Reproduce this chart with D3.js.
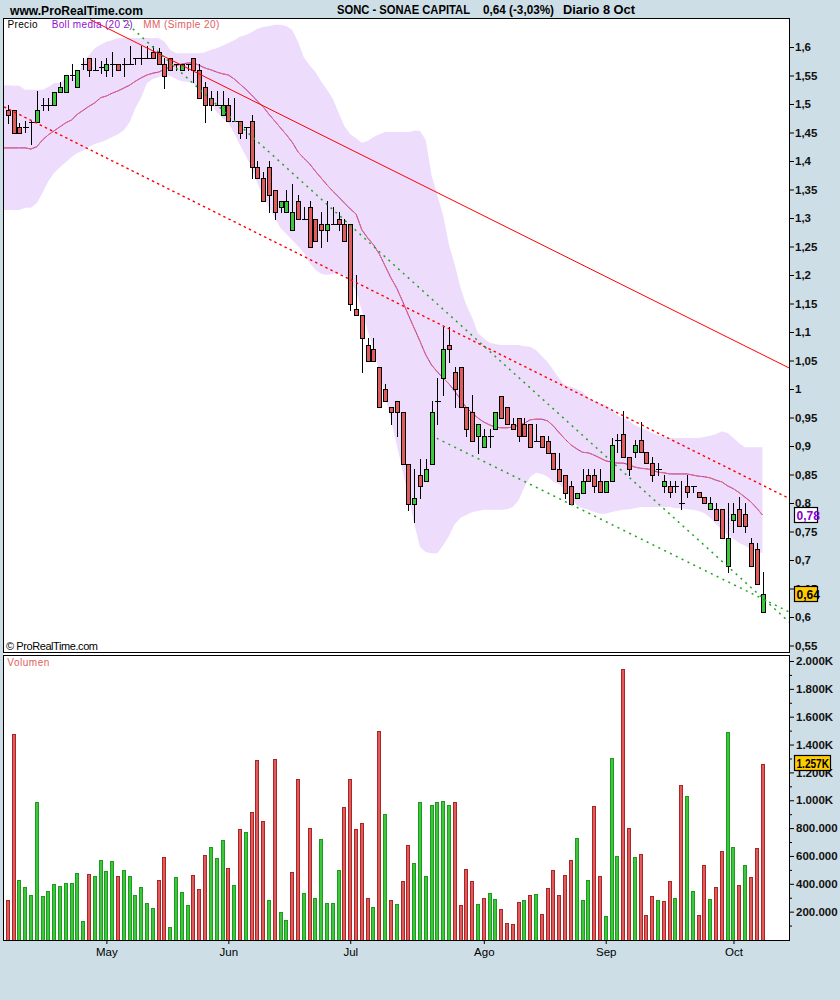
<!DOCTYPE html>
<html><head><meta charset="utf-8">
<script src="https://cdn.jsdelivr.net/npm/d3@7"></script>
<style>
html,body{margin:0;padding:0;background:#cedee6;}
svg{display:block;font-family:"Liberation Sans",Arial,sans-serif;}
</style></head><body>
<svg id="c" width="840" height="1000"></svg>
<script>
// ---------- DATA ----------
const candleOpen = [1.490,1.490,1.459,1.459,1.469,1.469,1.499,1.499,1.499,1.521,
1.521,1.551,1.529,1.571,1.580,1.560,1.565,1.560,1.570,1.570,
1.571,1.571,1.580,1.580,1.580,1.591,1.591,1.570,1.580,1.570,
1.560,1.570,1.580,1.560,1.529,1.510,1.499,1.481,1.499,1.470,
1.470,1.460,1.470,1.389,1.370,1.389,1.349,1.320,1.310,1.279,
1.330,1.299,1.320,1.299,1.289,1.279,1.289,1.299,1.289,1.289,
1.140,1.130,1.078,1.070,1.038,1.000,0.968,0.979,0.959,0.868,
0.798,0.849,0.839,0.868,0.979,1.019,1.078,1.029,1.039,0.968,
0.959,0.918,0.899,0.918,0.929,0.988,0.968,0.938,0.949,0.938,
0.938,0.908,0.918,0.908,0.888,0.859,0.849,0.829,0.808,0.818,
0.850,0.850,0.839,0.820,0.839,0.911,0.921,0.880,0.890,0.911,
0.890,0.870,0.860,0.829,0.829,0.829,0.800,0.830,0.830,0.820,
0.810,0.790,0.790,0.790,0.690,0.770,0.790,0.780,0.729,0.720,
0.609];
const candleHigh = [1.498,1.490,1.467,1.470,1.470,1.522,1.510,1.510,1.521,1.539,
1.551,1.571,1.560,1.580,1.580,1.580,1.575,1.580,1.591,1.570,
1.580,1.601,1.580,1.601,1.601,1.601,1.598,1.580,1.580,1.570,
1.570,1.570,1.580,1.570,1.539,1.522,1.522,1.522,1.510,1.510,
1.470,1.460,1.481,1.400,1.380,1.400,1.349,1.330,1.349,1.359,
1.340,1.320,1.330,1.299,1.310,1.330,1.320,1.310,1.299,1.289,
1.200,1.130,1.089,1.089,1.038,1.008,0.968,0.979,0.959,0.868,
0.860,0.878,0.878,0.979,1.020,1.109,1.109,1.039,1.039,0.968,
0.990,0.938,0.929,0.929,0.959,0.988,0.968,0.949,0.949,0.949,
0.938,0.938,0.918,0.918,0.888,0.888,0.849,0.839,0.818,0.860,
0.860,0.860,0.860,0.839,0.914,0.921,0.962,0.880,0.911,0.942,
0.890,0.880,0.870,0.850,0.839,0.839,0.839,0.850,0.830,0.820,
0.810,0.810,0.800,0.790,0.800,0.800,0.810,0.800,0.739,0.729,
0.679];
const candleLow = [1.466,1.450,1.450,1.451,1.429,1.469,1.490,1.490,1.499,1.521,
1.521,1.542,1.529,1.561,1.550,1.560,1.555,1.550,1.550,1.560,
1.550,1.571,1.570,1.570,1.580,1.580,1.570,1.528,1.560,1.560,
1.560,1.560,1.539,1.510,1.469,1.490,1.499,1.481,1.470,1.470,
1.440,1.440,1.370,1.370,1.330,1.310,1.299,1.310,1.310,1.279,
1.299,1.299,1.249,1.260,1.249,1.260,1.289,1.279,1.260,1.139,
1.130,1.029,1.049,1.049,0.969,0.979,0.938,0.918,0.868,0.788,
0.767,0.808,0.839,0.868,0.938,0.990,1.048,0.968,0.968,0.918,
0.908,0.888,0.899,0.899,0.929,0.949,0.938,0.929,0.908,0.918,
0.899,0.908,0.899,0.888,0.859,0.839,0.808,0.798,0.808,0.818,
0.839,0.820,0.820,0.820,0.839,0.890,0.880,0.850,0.880,0.890,
0.870,0.839,0.850,0.820,0.810,0.820,0.789,0.810,0.820,0.810,
0.800,0.790,0.770,0.739,0.679,0.750,0.760,0.750,0.690,0.658,
0.609];
const candleClose = [1.481,1.450,1.450,1.459,1.469,1.490,1.499,1.499,1.521,1.530,
1.551,1.551,1.560,1.571,1.560,1.560,1.565,1.570,1.570,1.560,
1.571,1.571,1.580,1.580,1.580,1.580,1.570,1.550,1.560,1.570,
1.570,1.570,1.560,1.510,1.499,1.499,1.499,1.499,1.470,1.470,
1.450,1.460,1.389,1.370,1.330,1.340,1.310,1.330,1.330,1.310,
1.299,1.299,1.249,1.260,1.279,1.289,1.289,1.289,1.260,1.149,
1.130,1.089,1.049,1.049,0.969,0.979,0.959,0.959,0.868,0.798,
0.808,0.829,0.860,0.959,0.979,1.070,1.070,1.000,0.968,0.929,
0.908,0.938,0.918,0.918,0.959,0.949,0.938,0.929,0.918,0.918,
0.899,0.908,0.899,0.888,0.859,0.839,0.818,0.798,0.818,0.839,
0.839,0.829,0.820,0.839,0.901,0.911,0.880,0.860,0.901,0.890,
0.870,0.850,0.860,0.839,0.820,0.829,0.800,0.820,0.830,0.810,
0.800,0.800,0.770,0.739,0.739,0.780,0.760,0.760,0.690,0.658,
0.640];
// volume in thousands
const volume = [284,1473,427,375,320,985,312,348,396,384,
403,403,475,133,468,456,571,492,564,456,
499,456,320,375,260,226,427,592,90,449,
341,248,463,362,607,664,585,714,511,391,
794,772,915,1289,851,284,1296,197,140,485,
1153,334,801,298,722,262,262,499,951,1153,
794,837,298,233,1497,901,284,255,420,679,
549,987,456,966,985,992,966,985,248,504,
420,252,296,331,288,217,116,109,267,281,
317,324,181,367,499,317,461,568,726,281,
427,959,454,166,1301,597,1940,798,590,612,
173,310,281,274,418,296,1107,1028,346,173,
533,288,375,633,1488,662,389,533,446,655,
1257];
const bollUpper = [1.533,1.532,1.532,1.525,1.525,1.525,1.525,1.530,1.537,1.537,
1.546,1.547,1.547,1.574,1.586,1.598,1.604,1.609,1.612,1.616,
1.616,1.616,1.616,1.616,1.616,1.616,1.616,1.609,1.595,1.589,
1.589,1.589,1.589,1.589,1.591,1.595,1.598,1.602,1.607,1.612,
1.618,1.621,1.626,1.632,1.635,1.637,1.639,1.639,1.637,1.630,
1.609,1.582,1.568,1.556,1.539,1.525,1.509,1.484,1.461,1.447,
1.440,1.432,1.435,1.442,1.447,1.451,1.451,1.451,1.451,1.451,
1.453,1.453,1.437,1.375,1.340,1.305,1.253,1.218,1.177,1.147,
1.125,1.098,1.089,1.081,1.079,1.077,1.077,1.077,1.077,1.075,
1.074,1.068,1.058,1.047,1.033,1.018,1.007,1.004,1.000,0.995,
0.984,0.979,0.975,0.972,0.963,0.954,0.949,0.944,0.937,0.932,
0.928,0.923,0.919,0.916,0.914,0.914,0.914,0.914,0.914,0.914,
0.916,0.918,0.921,0.926,0.923,0.914,0.905,0.898,0.898,0.898,
0.898];
const bollLower = [1.314,1.314,1.314,1.318,1.318,1.326,1.344,1.365,1.379,1.389,
1.398,1.407,1.414,1.419,1.425,1.430,1.433,1.437,1.442,1.447,
1.454,1.468,1.493,1.512,1.537,1.544,1.547,1.551,1.549,1.544,
1.540,1.539,1.535,1.530,1.516,1.500,1.486,1.475,1.467,1.449,
1.428,1.409,1.388,1.361,1.339,1.319,1.300,1.282,1.272,1.261,
1.251,1.239,1.221,1.209,1.202,1.200,1.202,1.202,1.200,1.189,
1.172,1.137,1.102,1.068,1.032,0.988,0.946,0.902,0.858,0.811,
0.765,0.723,0.714,0.712,0.712,0.726,0.742,0.763,0.774,0.779,
0.784,0.786,0.788,0.788,0.788,0.788,0.789,0.793,0.805,0.828,
0.846,0.853,0.851,0.846,0.837,0.833,0.823,0.809,0.796,0.791,
0.788,0.784,0.781,0.781,0.784,0.786,0.788,0.789,0.791,0.793,
0.793,0.793,0.793,0.793,0.793,0.791,0.791,0.789,0.788,0.786,
0.782,0.774,0.763,0.753,0.744,0.737,0.730,0.725,0.719,0.716,
0.712];
const ma20 = [1.423,1.423,1.423,1.423,1.421,1.425,1.437,1.446,1.453,1.460,
1.467,1.472,1.482,1.489,1.496,1.502,1.511,1.514,1.519,1.523,
1.528,1.533,1.540,1.546,1.551,1.554,1.556,1.561,1.565,1.568,
1.570,1.572,1.572,1.568,1.563,1.560,1.556,1.553,1.551,1.544,
1.535,1.526,1.516,1.505,1.495,1.482,1.470,1.458,1.446,1.433,
1.416,1.405,1.395,1.382,1.370,1.358,1.347,1.337,1.326,1.316,
1.307,1.279,1.265,1.253,1.237,1.216,1.195,1.177,1.154,1.130,
1.107,1.084,1.060,1.042,1.030,1.019,1.009,0.996,0.982,0.967,
0.958,0.949,0.942,0.937,0.933,0.932,0.932,0.933,0.937,0.940,
0.946,0.947,0.947,0.944,0.935,0.923,0.912,0.902,0.895,0.889,
0.888,0.884,0.879,0.874,0.872,0.870,0.870,0.867,0.863,0.861,
0.860,0.858,0.854,0.853,0.851,0.851,0.851,0.851,0.849,0.847,
0.846,0.844,0.840,0.837,0.830,0.825,0.818,0.810,0.802,0.791,
0.779];
// trend lines drawn on the chart: [bar index, price] end points
const trendSolidRed = [[14.2,1.648],[134.57,1.037]];
const trendDottedRed = [[-0.64,1.495],[134.57,0.808]];
const trendGreenSteep = [[19.9,1.647],[134.57,0.5915]];
const trendGreenLow = [[73.9,0.9135],[134.57,0.609]];

const priceTicks = [1.6,1.55,1.5,1.45,1.4,1.35,1.3,1.25,1.2,1.15,1.1,1.05,1.0,0.95,0.9,0.85,0.8,0.75,0.7,0.65,0.6,0.55];
const priceTickLabels = ["1,6","1,55","1,5","1,45","1,4","1,35","1,3","1,25","1,2","1,15","1,1","1,05","1","0,95","0,9","0,85","0,8","0,75","0,7","0,65","0,6","0,55"];
const volTicks = [2000,1800,1600,1400,1200,1000,800,600,400,200];
const volTickLabels = ["2.000K","1.800K","1.600K","1.400K","1.200K","1.000K","800.000","600.000","400.000","200.000"];
const volMinorTicks = [1900,1700,1500,1300,1100,900,700,500,300,100];
const monthIndex = [17,38,59,82,103,125];
const monthLabels = ["May","Jun","Jul","Ago","Sep","Oct"];
const lastVolumeLabel = "1.257K";

// ---------- LAYOUT ----------
const svg = d3.select('#c');
const BG = '#cedee6';
const L = 3.5, R = 789.5, PT = 18.5, PB = 652.5, VT = 655.5, VB = 940.5;
const RED = '#e05c5c', GREEN = '#3cc83c';

svg.append('rect').attr('width',840).attr('height',1000).attr('fill',BG);
svg.append('rect').attr('x',L).attr('y',PT).attr('width',R-L).attr('height',VB-PT).attr('fill','#fff');

const x = d3.scaleLinear().domain([0,130]).range([7.7,762.5]);
const y = d3.scaleLinear().domain([0.55,1.6]).range([645.5,47]);
const yv = d3.scaleLinear().domain([0,2000]).range([939.5,661]);

const defs = svg.append('defs');
defs.append('clipPath').attr('id','pclip').append('rect')
  .attr('x',L).attr('y',PT).attr('width',R-L).attr('height',PB-PT);

const idx = d3.range(candleClose.length);
const pg = svg.append('g').attr('clip-path','url(#pclip)');

// Bollinger band
const bandIdx = [-0.64].concat(idx);
const bi = i => i < 0 ? 0 : i;
pg.append('path')
  .attr('d', d3.area().x(i=>x(i)).y0(i=>y(bollLower[bi(i)])).y1(i=>y(bollUpper[bi(i)]))(bandIdx))
  .attr('fill','#eddcfc');

// MA line (Boll media purple under MM salmon)
const maLine = d3.line().x(i=>x(i)).y(i=>y(ma20[bi(i)]));
pg.append('path').attr('d',maLine(bandIdx)).attr('fill','none').attr('stroke','#9a2fd0').attr('stroke-width',1);
pg.append('path').attr('d',maLine(bandIdx)).attr('fill','none').attr('stroke','#e87070').attr('stroke-width',1).attr('stroke-dasharray','14,2');

// candles
const cg = pg.append('g').attr('shape-rendering','crispEdges');
idx.forEach(i=>{
  const cx = Math.round(x(i)) + 0.5;
  const o = candleOpen[i], c = candleClose[i];
  cg.append('line').attr('x1',cx).attr('x2',cx)
    .attr('y1',Math.round(y(candleHigh[i]))).attr('y2',Math.round(y(candleLow[i]))+1)
    .attr('stroke','#000');
  const top = Math.round(y(Math.max(o,c))), bot = Math.round(y(Math.min(o,c)));
  if (bot - top < 2) {
    cg.append('line').attr('x1',cx-2.5).attr('x2',cx+3.5).attr('y1',top+0.5).attr('y2',top+0.5).attr('stroke','#000');
  } else {
    cg.append('rect').attr('x',cx-2).attr('y',top+0.5).attr('width',4).attr('height',bot-top)
      .attr('fill', c>o?GREEN:RED).attr('stroke','#000');
  }
});

// trend lines
const tl = d3.line().x(d=>x(d[0])).y(d=>y(d[1]));
pg.append('path').attr('d',tl(trendSolidRed)).attr('stroke','#ff0000').attr('stroke-width',1).attr('fill','none');
pg.append('path').attr('d',tl(trendDottedRed)).attr('stroke','#ff0000').attr('stroke-width',1.4).attr('fill','none').attr('stroke-dasharray','2.5,3.2');
pg.append('path').attr('d',tl(trendGreenSteep)).attr('stroke','#1ea51e').attr('stroke-width',1.5).attr('fill','none').attr('stroke-dasharray','2,4.5');
pg.append('path').attr('d',tl(trendGreenLow)).attr('stroke','#1ea51e').attr('stroke-width',1.5).attr('fill','none').attr('stroke-dasharray','2,4.5');

// volume bars
const vg = svg.append('g').attr('shape-rendering','crispEdges');
idx.forEach(i=>{
  const prev = i>0 ? candleClose[i-1] : candleOpen[i];
  const up = candleClose[i] >= prev;
  const cx = Math.round(x(i));
  const top = Math.round(yv(volume[i]));
  vg.append('rect').attr('x',cx-1.5).attr('y',top+0.5).attr('width',3).attr('height',Math.round(yv(0))-top)
    .attr('fill',up?GREEN:RED).attr('stroke',up?'#1f9a1f':'#aa2626');
});

// panel borders
svg.append('rect').attr('x',L).attr('y',PT).attr('width',R-L).attr('height',PB-PT).attr('fill','none').attr('stroke','#000');
svg.append('rect').attr('x',L).attr('y',VT).attr('width',R-L).attr('height',VB-VT).attr('fill','none').attr('stroke','#000');

// price axis
const pax = svg.append('g').attr('transform','translate(789,0)')
  .call(d3.axisRight(y).tickValues(priceTicks).tickFormat((d,i)=>priceTickLabels[i]).tickSize(5).tickPadding(1));
pax.select('.domain').remove();
pax.selectAll('text').attr('font-size',11.5).attr('font-weight','bold').attr('font-family','"Liberation Sans",Arial,sans-serif').attr('fill','#111');
pax.selectAll('line').attr('stroke','#000');

// volume axis
const vax = svg.append('g').attr('transform','translate(789,0)')
  .call(d3.axisRight(yv).tickValues(volTicks).tickFormat((d,i)=>volTickLabels[i]).tickSize(5).tickPadding(2));
vax.select('.domain').remove();
vax.selectAll('text').attr('font-size',11.5).attr('font-weight','bold').attr('font-family','"Liberation Sans",Arial,sans-serif').attr('fill','#111');
vax.selectAll('line').attr('stroke','#000');
const vmx = svg.append('g').attr('transform','translate(789,0)')
  .call(d3.axisRight(yv).tickValues(volMinorTicks).tickFormat('').tickSize(3));
vmx.select('.domain').remove();
vmx.selectAll('line').attr('stroke','#000');

// month axis
const xax = svg.append('g').attr('transform','translate(0,940)')
  .call(d3.axisBottom(x).tickValues(monthIndex).tickFormat((d,i)=>monthLabels[i]).tickSize(4).tickPadding(4));
xax.select('.domain').remove();
xax.selectAll('text').attr('font-size',11.5).attr('font-family','"Liberation Sans",Arial,sans-serif').attr('fill','#000');
xax.selectAll('line').attr('stroke','#000');

// value boxes
function box(yy, w, fill, txt, col, tlen){
  const g = svg.append('g');
  g.append('rect').attr('x',794.5).attr('y',Math.round(yy)-7.5).attr('width',w).attr('height',15)
    .attr('fill',fill).attr('stroke','#000').attr('stroke-width',1.2);
  const t = g.append('text').attr('x',796.5).attr('y',Math.round(yy)+4.5).attr('font-size',12).attr('font-weight','bold')
    .attr('fill',col).text(txt);
  if (tlen) t.attr('textLength',tlen).attr('lengthAdjust','spacingAndGlyphs');
}
const fmt = v => d3.format('.2f')(v).replace('.',',');
box(y(ma20[ma20.length-1]), 23, '#fff', fmt(ma20[ma20.length-1]), '#8a00cc');
box(y(candleClose[candleClose.length-1]), 23, '#ffcc00', fmt(candleClose[candleClose.length-1]), '#000');
box(yv(volume[volume.length-1]) - 1, 36, '#ffcc00', lastVolumeLabel, '#000', 32.5);

// texts
svg.append('text').attr('x',10).attr('y',15).attr('font-size',13).attr('font-weight','bold')
  .attr('textLength',133).attr('lengthAdjust','spacingAndGlyphs').text('www.ProRealTime.com');
svg.append('text').attr('x',337).attr('y',14).attr('font-size',12).attr('font-weight','bold')
  .attr('textLength',133).attr('lengthAdjust','spacingAndGlyphs').text('SONC - SONAE CAPITAL');
svg.append('text').attr('x',483).attr('y',14).attr('font-size',12).attr('font-weight','bold')
  .attr('textLength',71).attr('lengthAdjust','spacingAndGlyphs').text('0,64 (-3,03%)');
svg.append('text').attr('x',563).attr('y',14).attr('font-size',12).attr('font-weight','bold')
  .attr('textLength',72).attr('lengthAdjust','spacingAndGlyphs').text('Diario  8 Oct');

svg.append('text').attr('x',7.5).attr('y',27.5).attr('font-size',10).attr('fill','#000')
  .attr('textLength',30).text('Precio');
svg.append('text').attr('x',51.7).attr('y',27.5).attr('font-size',10).attr('fill','#9010d0')
  .attr('textLength',81).text('Boll media (20 2)');
svg.append('text').attr('x',143.3).attr('y',27.5).attr('font-size',10).attr('fill','#e06060')
  .attr('textLength',76).text('MM (Simple 20)');
svg.append('text').attr('x',6).attr('y',650).attr('font-size',11).attr('fill','#000')
  .attr('textLength',92).text('© ProRealTime.com');
svg.append('text').attr('x',7.3).attr('y',665.5).attr('font-size',10).attr('fill','#e06060')
  .attr('textLength',42).text('Volumen');
</script>
</body></html>
